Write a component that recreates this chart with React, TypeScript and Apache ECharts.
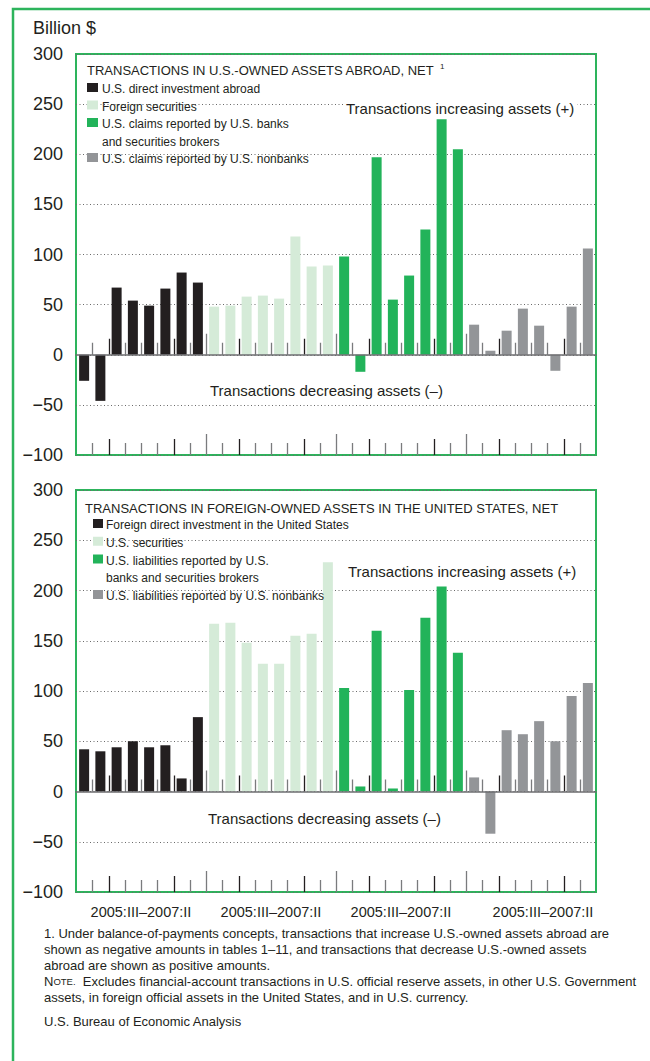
import React, { useEffect, useRef } from 'react';
import * as echarts from 'echarts';

// ---------- data ----------
const quarters = ['2005:III', '2005:IV', '2006:I', '2006:II', '2006:III', '2006:IV', '2007:I', '2007:II'];
const groupIds = ['g1', 'g2', 'g3', 'g4'];
const groupLabels = ['2005:III–2007:II', '2005:III–2007:II', '2005:III–2007:II', '2005:III–2007:II'];
const yMin = -100;
const yMax = 300;
const yStep = 50;

const p1Title = 'TRANSACTIONS IN U.S.-OWNED ASSETS ABROAD, NET';
const p1Footref = '1';
const p1Names = [
  'U.S. direct investment abroad',
  'Foreign securities',
  'U.S. claims reported by U.S. banks\nand securities brokers',
  'U.S. claims reported by U.S. nonbanks',
];
const p1Direct = [-26, -46, 67, 54, 49, 66, 82, 72];
const p1Securities = [48, 49, 58, 59, 56, 118, 88, 89];
const p1Banks = [98, -17, 197, 55, 79, 125, 235, 205];
const p1Nonbanks = [30, 4, 24, 46, 29, -16, 48, 106];

const p2Title = 'TRANSACTIONS IN FOREIGN-OWNED ASSETS IN THE UNITED STATES, NET';
const p2Names = [
  'Foreign direct investment in the United States',
  'U.S. securities',
  'U.S. liabilities reported by U.S.\nbanks and securities brokers',
  'U.S. liabilities reported by U.S. nonbanks',
];
const p2Direct = [42, 40, 44, 50, 44, 46, 13, 74];
const p2Securities = [167, 168, 148, 127, 127, 155, 157, 228];
const p2Banks = [103, 5, 160, 3, 101, 173, 204, 138];
const p2Nonbanks = [14, -42, 61, 57, 70, 50, 95, 108];

const increasingText = 'Transactions increasing assets (+)';
const decreasingText = 'Transactions decreasing assets (\u2013)';
const unitText = 'Billion $';
const footnote1 =
  '1. Under balance-of-payments concepts, transactions that increase U.S.-owned assets abroad are\nshown as negative amounts in tables 1\u201311, and transactions that decrease U.S.-owned assets\nabroad are shown as positive amounts.';
const noteText =
  'Excludes financial-account transactions in U.S. official reserve assets, in other U.S. Government\nassets, in foreign official assets in the United States, and in U.S. currency.';
const sourceText = 'U.S. Bureau of Economic Analysis';

// ---------- styles ----------
const FONT = '"Liberation Sans", Arial, Helvetica, sans-serif';
const INK = '#231f20';
const GREEN_FRAME = '#2db45c';
const COLORS = ['#231f20', '#d5ebd8', '#22b35a', '#939598'];

const categories: string[] = [];
groupIds.forEach((g) => quarters.forEach((q) => categories.push(g + ' ' + q)));

function spread(values: number[], groupIndex: number) {
  return categories.map((_, i) => (Math.floor(i / quarters.length) === groupIndex ? values[i % quarters.length] : null));
}

const boundaries: number[][] = [];
for (let k = 1; k < categories.length; k++) boundaries.push([k, 0]);

function tickKind(k: number) {
  if (k % quarters.length === 0) return 'tall';
  if (quarters[k % quarters.length].endsWith(':I')) return 'mid';
  return 'short';
}

function tickSeries(xAxisIndex: number, yAxisIndex: number) {
  return {
    type: 'custom',
    xAxisIndex,
    yAxisIndex,
    z: 1,
    silent: true,
    data: boundaries,
    renderItem: (params: any, api: any) => {
      const k = api.value(0);
      const kind = tickKind(k);
      const len = kind === 'tall' ? 21 : kind === 'mid' ? 16 : 12;
      const color = kind === 'mid' ? '#231f20' : '#7a7b7d';
      const zero = api.coord([k, 0]);
      const bottom = api.coord([k, yMin]);
      const bw = api.size([1, 0])[0];
      const x = Math.round(zero[0] - bw / 2) + 0.5;
      return {
        type: 'group',
        children: [
          { type: 'line', shape: { x1: x, y1: zero[1], x2: x, y2: zero[1] - len }, style: { stroke: color, lineWidth: 1.3 } },
          { type: 'line', shape: { x1: x, y1: bottom[1], x2: x, y2: bottom[1] - len }, style: { stroke: color, lineWidth: 1.3 } },
        ],
      };
    },
  };
}

function barSeries(names: string[], values: number[][], xAxisIndex: number, yAxisIndex: number) {
  return values.map((vals, gi) => ({
    type: 'bar',
    name: names[gi].replace('\n', ' '),
    xAxisIndex,
    yAxisIndex,
    data: spread(vals, gi),
    barWidth: 10,
    barGap: '-100%',
    itemStyle: { color: COLORS[gi] },
    z: 2,
  }));
}

function txt(text: string, x: number, y: number, size: number, extra: any = {}) {
  return {
    type: 'text',
    x,
    y,
    z: 10,
    silent: true,
    style: {
      text,
      fill: INK,
      fontSize: size,
      fontFamily: FONT,
      align: extra.align || 'left',
      textAlign: extra.align || 'left',
      verticalAlign: extra.va || 'middle',
      textVerticalAlign: extra.va || 'middle',
      ...(extra.style || {}),
    },
  };
}

function legend(names: string[], title: string, titleX: number, titleY: number, sqX: number, sqW: number, textX: number, firstY: number, step: number) {
  const els: any[] = [txt(title, titleX, titleY, 13)];
  let line = 0;
  names.forEach((n, i) => {
    const cy = firstY + line * step;
    els.push({
      type: 'rect',
      z: 10,
      silent: true,
      shape: { x: sqX, y: cy - 6, width: sqW, height: 9 },
      style: { fill: COLORS[i] },
    });
    els.push(
      txt(n, textX, cy - step / 2, 12, { va: 'top', style: { lineHeight: step } })
    );
    line += n.split('\n').length;
  });
  return els;
}

const yLabelFmt = (v: number) => String(v).replace('-', '\u2212');

function yAxis(gridIndex: number) {
  return {
    type: 'value',
    gridIndex,
    min: yMin,
    max: yMax,
    interval: yStep,
    axisLine: { show: false },
    axisTick: { show: false },
    axisLabel: { color: INK, fontSize: 18, fontFamily: FONT, margin: 13, formatter: yLabelFmt },
    splitLine: { show: true, lineStyle: { color: '#6a6a6a', type: [1, 2.5], width: 1 } },
  };
}

export default function App() {
  const ref = useRef<HTMLDivElement>(null);
  useEffect(() => {
    if (!ref.current) return;
    const chart = echarts.init(ref.current, null, { renderer: 'svg' });
    const option: any = {
      animation: false,
      backgroundColor: '#ffffff',
      textStyle: { fontFamily: FONT },
      grid: [
        { left: 76, width: 520, top: 54, height: 401, show: true, borderColor: GREEN_FRAME, borderWidth: 2, backgroundColor: 'transparent' },
        { left: 76, width: 520, top: 490, height: 402, show: true, borderColor: GREEN_FRAME, borderWidth: 2, backgroundColor: 'transparent' },
      ],
      xAxis: [
        {
          type: 'category',
          gridIndex: 0,
          data: categories,
          position: 'bottom',
          z: 3,
          axisLine: { onZero: true, lineStyle: { color: '#6d6e70', width: 1.5 } },
          axisTick: { show: false },
          axisLabel: { show: false },
        },
        {
          type: 'category',
          gridIndex: 1,
          data: categories,
          position: 'top',
          z: 3,
          axisLine: { onZero: true, lineStyle: { color: '#6d6e70', width: 1.5 } },
          axisTick: { show: false },
          axisLabel: { show: false },
        },
        {
          type: 'category',
          gridIndex: 1,
          data: groupIds.map((g, i) => (i === 3 ? { value: g, textStyle: { padding: [0, 0, 0, 24] } } : g)),
          position: 'bottom',
          axisLine: { show: false },
          axisTick: { show: false },
          axisLabel: {
            color: INK,
            fontSize: 14.5,
            fontFamily: FONT,
            margin: 12,
            interval: 0,
            formatter: (_v: string, i: number) => groupLabels[i],
          },
        },
      ],
      yAxis: [yAxis(0), yAxis(1)],
      series: [
        tickSeries(0, 0),
        ...barSeries(p1Names, [p1Direct, p1Securities, p1Banks, p1Nonbanks], 0, 0),
        tickSeries(1, 1),
        ...barSeries(p2Names, [p2Direct, p2Securities, p2Banks, p2Nonbanks], 1, 1),
      ],
      graphic: [
        {
          type: 'rect',
          z: 0,
          silent: true,
          shape: { x: 13, y: 9, width: 720, height: 1100 },
          style: { fill: 'none', stroke: GREEN_FRAME, lineWidth: 2.5 },
        },
        txt(unitText, 33, 28, 18),
        ...legend(p1Names, p1Title, 87, 70, 87, 11, 102, 89, 17.5),
        txt(p1Footref, 440, 66, 8),
        ...legend(p2Names, p2Title, 85, 508, 93, 10, 106, 525, 17.75),
        txt(increasingText, 343, 108, 15, { style: { backgroundColor: '#ffffff', padding: [0, 3] } }),
        txt(increasingText, 345, 571, 15, { style: { backgroundColor: '#ffffff', padding: [0, 3] } }),
        txt(decreasingText, 210, 390, 15),
        txt(decreasingText, 208, 818, 15),
        txt(footnote1, 44, 925, 13, { va: 'top', style: { lineHeight: 16 } }),
        {
          type: 'text',
          x: 44,
          y: 973,
          z: 10,
          silent: true,
          style: {
            text: '{n|N}{sc|OTE.}  ' + noteText,
            fill: INK,
            fontSize: 13,
            fontFamily: FONT,
            lineHeight: 16,
            align: 'left',
            textAlign: 'left',
            verticalAlign: 'top',
            textVerticalAlign: 'top',
            rich: {
              n: { fontSize: 13, fontFamily: FONT, fill: INK, lineHeight: 16 },
              sc: { fontSize: 9.5, fontFamily: FONT, fill: INK, lineHeight: 16 },
            },
          },
        },
        txt(sourceText, 44, 1021, 13),
      ],
    };
    chart.setOption(option);
    return () => chart.dispose();
  }, []);
  return <div ref={ref} style={{ position: 'absolute', left: 0, top: 0, width: 650, height: 1061 }} />;
}
